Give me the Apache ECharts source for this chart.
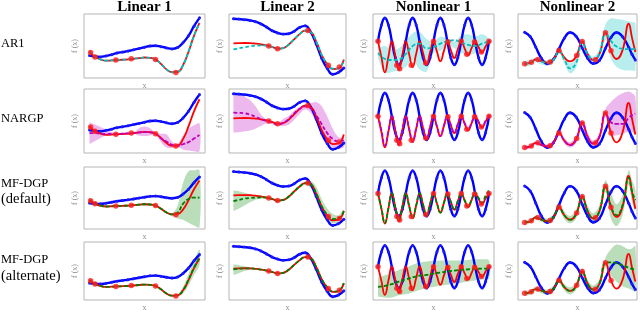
<!DOCTYPE html>
<html><head><meta charset="utf-8">
<script src="https://cdn.jsdelivr.net/npm/echarts@6/dist/echarts.min.js"></script>
<style>html,body{margin:0;padding:0;background:#fff}#c{width:640px;height:313px}</style>
</head><body><div id="c"></div><script>
const colTitles = ['Linear 1', 'Linear 2', 'Nonlinear 1', 'Nonlinear 2'];
const rowLabels = [['AR1'], ['NARGP'], ['MF-DGP', '(default)'], ['MF-DGP', '(alternate)']];

// ---------- Linear 1 ----------
const xL1 = [0,0.05,0.1,0.15,0.2,0.25,0.3,0.35,0.4,0.45,0.5,0.55,0.6,0.65,0.7,0.75,0.8,0.85,0.9,0.95,1];
const lowL1 = [0.35,0.335,0.33,0.345,0.365,0.39,0.405,0.42,0.44,0.46,0.48,0.50,0.505,0.49,0.47,0.455,0.475,0.55,0.66,0.81,0.94];
const highL1 = [0.41,0.33,0.29,0.27,0.275,0.28,0.285,0.29,0.30,0.31,0.32,0.315,0.29,0.22,0.135,0.09,0.095,0.20,0.41,0.66,0.86];
const ptsXL1 = [0.01,0.05,0.24,0.38,0.6,0.785];
const ptsYL1 = [0.40,0.33,0.28,0.30,0.29,0.085];
const ar1MeanL1 = [0.42,0.34,0.29,0.27,0.275,0.28,0.285,0.29,0.30,0.31,0.32,0.315,0.29,0.22,0.135,0.09,0.095,0.20,0.41,0.66,0.86];
const nargpMeanL1 = [0.30,0.30,0.29,0.285,0.285,0.285,0.29,0.295,0.30,0.31,0.315,0.31,0.29,0.21,0.16,0.105,0.09,0.115,0.15,0.21,0.27];
const nargpLoL1 = [0.12,0.17,0.22,0.26,0.28,0.28,0.27,0.28,0.29,0.26,0.25,0.26,0.28,0.15,0.06,0.05,0.07,0.03,0.01,0.0,0.0];
const nargpHiL1 = [0.48,0.44,0.40,0.36,0.32,0.29,0.31,0.31,0.31,0.38,0.41,0.38,0.31,0.29,0.28,0.16,0.12,0.26,0.37,0.43,0.46];
const dgpMeanL1 = [0.42,0.34,0.29,0.27,0.275,0.28,0.285,0.29,0.30,0.31,0.32,0.315,0.29,0.22,0.135,0.09,0.13,0.33,0.44,0.47,0.47];
const dgpLoL1 = [0.33,0.30,0.27,0.255,0.26,0.265,0.265,0.275,0.285,0.29,0.30,0.295,0.27,0.20,0.115,0.065,0.0,-0.03,-0.1,-0.16,-0.2];
const dgpHiL1 = [0.47,0.38,0.31,0.29,0.29,0.295,0.305,0.31,0.315,0.33,0.34,0.335,0.31,0.24,0.155,0.115,0.28,0.8,1.07,1.09,1.09];
const altMeanL1 = [0.41,0.33,0.29,0.27,0.275,0.28,0.285,0.29,0.30,0.31,0.32,0.315,0.29,0.22,0.135,0.09,0.095,0.20,0.42,0.67,0.88];
const altLoL1 = [0.36,0.31,0.28,0.26,0.265,0.27,0.275,0.28,0.29,0.30,0.31,0.305,0.28,0.21,0.125,0.075,0.07,0.14,0.30,0.52,0.72];
const altHiL1 = [0.46,0.35,0.30,0.28,0.285,0.29,0.295,0.30,0.31,0.32,0.33,0.325,0.30,0.23,0.145,0.105,0.12,0.27,0.54,0.82,1.04];

// ---------- Linear 2 ----------
const xL2 = xL1;
const lowL2 = [0.926,0.92,0.912,0.90,0.88,0.845,0.795,0.74,0.705,0.686,0.692,0.73,0.79,0.815,0.72,0.53,0.31,0.15,0.058,0.085,0.158];
const highL2 = [0.542,0.545,0.547,0.545,0.537,0.525,0.508,0.485,0.458,0.468,0.52,0.605,0.685,0.74,0.72,0.57,0.358,0.215,0.14,0.15,0.29];
const ptsXL2 = [0.32,0.40,0.675,0.86,0.96];
const ptsYL2 = [0.50,0.458,0.742,0.20,0.17];
const ar1MeanL2 = [0.447,0.465,0.48,0.495,0.505,0.51,0.505,0.485,0.458,0.468,0.52,0.605,0.685,0.74,0.72,0.57,0.36,0.22,0.145,0.15,0.28];
const nargpMeanL2 = [0.63,0.627,0.62,0.60,0.565,0.53,0.50,0.475,0.445,0.47,0.53,0.62,0.69,0.73,0.70,0.59,0.45,0.31,0.22,0.18,0.20];
const nargpLoL2 = [0.32,0.325,0.335,0.35,0.38,0.42,0.46,0.45,0.43,0.42,0.44,0.52,0.61,0.68,0.63,0.48,0.27,0.16,0.09,0.065,0.09];
const nargpHiL2 = [0.93,0.92,0.88,0.83,0.73,0.60,0.52,0.49,0.46,0.53,0.58,0.66,0.72,0.76,0.78,0.795,0.73,0.57,0.38,0.25,0.24];
const dgpMeanL2 = [0.45,0.47,0.49,0.50,0.505,0.51,0.505,0.485,0.458,0.468,0.52,0.605,0.685,0.74,0.72,0.57,0.37,0.23,0.16,0.17,0.29];
const dgpLoL2 = [0.29,0.33,0.38,0.43,0.47,0.49,0.49,0.47,0.445,0.45,0.50,0.58,0.66,0.71,0.66,0.46,0.26,0.13,0.09,0.11,0.27];
const dgpHiL2 = [0.62,0.61,0.585,0.56,0.54,0.53,0.52,0.50,0.47,0.485,0.54,0.63,0.71,0.76,0.78,0.68,0.48,0.33,0.24,0.22,0.31];
const altMeanL2 = [0.53,0.54,0.545,0.545,0.537,0.525,0.508,0.485,0.458,0.468,0.52,0.605,0.685,0.74,0.72,0.57,0.36,0.22,0.145,0.155,0.29];
const altLoL2 = [0.43,0.46,0.50,0.52,0.525,0.515,0.50,0.475,0.45,0.458,0.51,0.595,0.675,0.73,0.705,0.55,0.34,0.205,0.13,0.14,0.27];
const altHiL2 = [0.61,0.60,0.58,0.565,0.55,0.535,0.515,0.495,0.465,0.478,0.53,0.615,0.695,0.75,0.735,0.59,0.38,0.235,0.16,0.17,0.31];

// ---------- Nonlinear 1 ----------
const xN1 = [0,0.031,0.062,0.094,0.125,0.156,0.188,0.219,0.25,0.281,0.312,0.344,0.375,0.406,0.438,0.469,0.5,0.531,0.562,0.594,0.625,0.656,0.688,0.719,0.75,0.781,0.812,0.844,0.875,0.906,0.938,0.969,1];
const lowN1 = [0,0.7,1,0.7,0,-0.7,-1,-0.7,0,0.7,1,0.7,0,-0.7,-1,-0.7,0,0.7,1,0.7,0,-0.7,-1,-0.7,0,0.7,1,0.7,0,-0.7,-1,-0.7,0];
const highN1 = [0,-0.68,-1.33,-0.65,0,-0.62,-1.22,-0.6,0,-0.56,-1.1,-0.53,0,-0.5,-0.97,-0.47,0,-0.44,-0.85,-0.41,0,-0.37,-0.72,-0.34,0,-0.31,-0.6,-0.28,0,-0.25,-0.48,-0.22,0];
const ptsXN1 = [0.0,0.17,0.195,0.3,0.43,0.5,0.63,0.75,0.8,0.87,0.93,1.0];
const ptsYN1 = [0,-1.02,-1.17,-1.02,-0.93,0,-0.02,0,-0.55,-0.02,-0.46,0];
const xN1b = [0,0.0625,0.125,0.1875,0.25,0.3125,0.375,0.4375,0.5,0.5625,0.625,0.6875,0.75,0.8125,0.875,0.9375,1];
const ar1MeanN1 = [-0.5,-0.75,-0.8,-0.78,-0.55,-0.2,-0.1,-0.3,-0.25,-0.1,0.0,0.05,-0.05,-0.15,-0.2,-0.1,0.0];
const ar1LoN1 = [-0.7,-1.35,-1.3,-1.25,-1.1,-0.8,-1.2,-1.3,-0.5,-0.4,-0.2,-0.3,-0.5,-0.6,-0.5,-0.45,-0.15];
const ar1HiN1 = [-0.3,-0.2,-0.35,-0.3,0.0,0.35,0.4,0.1,0.0,0.2,0.1,0.0,0.25,0.3,0.2,0.3,0.1];
const nargpMeanN1 = [0.05,-0.6,-1.25,-0.62,0,-0.6,-1.2,-0.58,0,-0.55,-1.08,-0.52,0,-0.49,-0.95,-0.46,0,-0.43,-0.84,-0.4,0,-0.36,-0.7,-0.33,0,-0.3,-0.58,-0.27,0.02,-0.23,-0.45,-0.2,0.03];
const dgpMeanN1 = [0,-0.66,-1.3,-0.64,0,-0.62,-1.2,-0.6,0,-0.56,-1.08,-0.53,0,-0.5,-0.96,-0.47,0,-0.44,-0.84,-0.41,0,-0.37,-0.72,-0.34,0,-0.31,-0.58,-0.25,0.05,-0.2,-0.4,-0.1,0.15];
const altMeanN1 = [-0.95,-0.9,-0.82,-0.7,-0.6,-0.5,-0.42,-0.38,-0.32,-0.27,-0.22,-0.18,-0.15,-0.12,-0.1,-0.09,-0.08];
const altLoN1 = [-1.4,-1.45,-1.45,-1.35,-1.3,-1.2,-1.1,-1.0,-0.95,-0.9,-0.85,-0.8,-0.75,-0.7,-0.65,-0.6,-0.55];
const altHiN1 = [-0.5,-0.4,-0.3,-0.15,-0.05,0.1,0.2,0.25,0.28,0.3,0.3,0.3,0.3,0.32,0.35,0.35,0.3];

// ---------- Nonlinear 2 ----------
const xN2 = [0,0.05,0.1,0.15,0.205,0.26,0.31,0.36,0.41,0.465,0.52,0.57,0.62,0.675,0.73,0.78,0.83,0.885,0.94,0.97,1];
const lowN2 = [1.0,0.73,0.07,-0.63,-1.0,-0.72,-0.05,0.64,0.99,0.75,0.0,-0.66,-0.99,-0.79,-0.02,0.67,0.99,0.72,0.05,-0.4,-0.76];
const highN2 = [-1.0,-0.95,-0.73,-0.84,-0.93,-0.72,-0.16,-0.62,-0.85,-0.54,0.41,-0.4,-0.77,-0.39,0.98,-0.17,-0.7,-0.12,1.55,0.65,-0.25];
const ptsXN2 = [0.0,0.06,0.12,0.23,0.31,0.47,0.52,0.64,0.73,0.78];
const ptsYN2 = [-1.0,-0.91,-0.73,-0.89,-0.16,-0.48,0.41,-0.74,0.98,-0.17];
const ar1MeanN2 = [-1.0,-0.95,-0.75,-0.86,-0.95,-0.75,-0.2,-0.75,-1.3,-0.95,0.35,-0.4,-0.75,-0.35,1.0,0.45,0.1,-0.05,-0.07,-0.07,-0.07];
const ar1LoN2 = [-1.2,-1.12,-0.9,-1.04,-1.12,-0.95,-0.35,-1.0,-1.6,-1.25,0.2,-0.6,-0.95,-0.65,0.5,-0.7,-1.2,-1.4,-1.43,-1.43,-1.43];
const ar1HiN2 = [-0.8,-0.78,-0.6,-0.68,-0.78,-0.55,-0.05,-0.5,-0.95,-0.65,0.5,-0.2,-0.55,-0.05,1.5,1.9,1.85,1.8,1.7,1.65,1.6];
const nargpMeanN2 = [-1.0,-0.95,-0.73,-0.84,-0.93,-0.72,-0.16,-0.62,-0.85,-0.54,0.41,-0.4,-0.77,-0.39,0.98,0.45,0.35,0.35,0.7,0.85,0.95];
const nargpLoN2 = [-1.1,-1.04,-0.82,-0.94,-1.04,-0.84,-0.27,-0.78,-1.0,-0.75,0.27,-0.65,-0.94,-0.62,0.75,-0.3,-0.3,-0.2,-0.1,-0.1,-0.25];
const nargpHiN2 = [-0.9,-0.86,-0.64,-0.74,-0.82,-0.6,-0.05,-0.45,-0.7,-0.3,0.55,-0.15,-0.6,-0.15,1.2,1.6,1.9,2.1,2.2,2.1,1.9];
const dgpMeanN2 = [-1.0,-0.95,-0.73,-0.84,-0.93,-0.72,-0.16,-0.62,-0.85,-0.54,0.41,-0.4,-0.77,-0.39,0.98,-0.1,-0.6,-0.05,1.45,0.7,0.22];
const dgpLoN2 = [-1.12,-1.05,-0.84,-0.96,-1.08,-0.9,-0.32,-0.84,-1.05,-0.78,0.22,-0.7,-1.04,-0.73,0.66,-0.8,-1.2,-0.6,1.05,0.1,-0.35];
const dgpHiN2 = [-0.88,-0.85,-0.62,-0.72,-0.78,-0.55,0.0,-0.4,-0.65,-0.3,0.6,-0.1,-0.5,-0.05,1.3,0.6,0.0,0.5,1.85,1.3,0.8];
const altMeanN2 = [-1.0,-0.95,-0.73,-0.84,-0.93,-0.72,-0.16,-0.62,-0.85,-0.54,0.41,-0.4,-0.77,-0.39,0.98,1.0,0.95,0.8,0.65,0.58,0.52];
const altLoN2 = [-1.18,-1.1,-0.88,-1.0,-1.1,-0.92,-0.34,-0.84,-1.08,-0.78,0.2,-0.65,-1.04,-0.68,0.66,0.15,-0.25,-0.55,-0.7,-0.8,-0.9];
const altHiN2 = [-0.82,-0.8,-0.58,-0.68,-0.76,-0.52,0.02,-0.4,-0.62,-0.3,0.62,-0.15,-0.5,-0.1,1.3,1.85,2.15,2.05,1.85,1.9,2.05];

// ---------- layout / style ----------
const gridLeft = [84, 229, 373, 518];
const gridWidth = [121, 117, 121, 119];
const gridTop = [14, 89, 167, 242];
const gridHeight = [64, 64, 62, 64];
const modelColors = ['#00bfbf', '#bf00bf', '#008000', '#008000'];
const bandColors = ['rgba(0,191,191,0.28)', 'rgba(191,0,191,0.28)', 'rgba(0,128,0,0.27)', 'rgba(0,128,0,0.27)'];

const cols = [
  {x: xL1, low: lowL1, high: highL1, px: ptsXL1, py: ptsYL1, xr: [-0.05, 1.05],
   yr: [[0, 1], [-0.03, 1.03], [-0.24, 1.164], [0, 1.2]],
   models: [
     {x: xL1, m: ar1MeanL1},
     {x: xL1, m: nargpMeanL1, bx: xL1, lo: nargpLoL1, hi: nargpHiL1},
     {x: xL1, m: dgpMeanL1, bx: xL1, lo: dgpLoL1, hi: dgpHiL1},
     {x: xL1, m: altMeanL1, bx: xL1, lo: altLoL1, hi: altHiL1}]},
  {x: xL2, low: lowL2, high: highL2, px: ptsXL2, py: ptsYL2, xr: [-0.04, 1.02],
   yr: [[0, 1], [0.0, 1.0], [0, 1], [0, 1]],
   models: [
     {x: xL2, m: ar1MeanL2},
     {x: xL2, m: nargpMeanL2, bx: xL2, lo: nargpLoL2, hi: nargpHiL2},
     {x: xL2, m: dgpMeanL2, bx: xL2, lo: dgpLoL2, hi: dgpHiL2},
     {x: xL2, m: altMeanL2, bx: xL2, lo: altLoL2, hi: altHiL2}]},
  {x: xN1, low: lowN1, high: highN1, px: ptsXN1, py: ptsYN1, xr: [-0.045, 1.045],
   yr: [[-1.57, 1.17], [-1.57, 1.17], [-1.57, 1.17], [-1.57, 1.17]],
   models: [
     {x: xN1b, m: ar1MeanN1, bx: xN1b, lo: ar1LoN1, hi: ar1HiN1},
     {x: xN1, m: nargpMeanN1},
     {x: xN1, m: dgpMeanN1},
     {x: xN1b, m: altMeanN1, bx: xN1b, lo: altLoN1, hi: altHiN1}]},
  {x: xN2, low: lowN2, high: highN2, px: ptsXN2, py: ptsYN2, xr: [-0.06, 1.015],
   yr: [[-1.91, 2.17], [-1.31, 2.35], [-1.36, 2.04], [-1.44, 2.32]],
   models: [
     {x: xN2, m: ar1MeanN2, bx: xN2, lo: ar1LoN2, hi: ar1HiN2},
     {x: xN2, m: nargpMeanN2, bx: xN2, lo: nargpLoN2, hi: nargpHiN2},
     {x: xN2, m: dgpMeanN2, bx: xN2, lo: dgpLoN2, hi: dgpHiN2},
     {x: xN2, m: altMeanN2, bx: xN2, lo: altLoN2, hi: altHiN2}]}
];

const pairs = (xs, ys) => xs.map((v, i) => [v, ys[i]]);
const grids = [], xAxes = [], yAxes = [], series = [];
const axisFont = {fontFamily: 'Liberation Serif', fontSize: 8, color: '#8a8a8a'};

for (let r = 0; r < 4; r++) {
  for (let c = 0; c < 4; c++) {
    const gi = grids.length;
    const col = cols[c];
    const mod = col.models[r];
    grids.push({left: gridLeft[c], top: gridTop[r], width: gridWidth[c], height: gridHeight[r],
      show: true, borderColor: '#b5b5b5', borderWidth: 1, backgroundColor: '#fff'});
    xAxes.push({type: 'value', gridIndex: gi, min: col.xr[0], max: col.xr[1],
      axisLine: {show: false}, axisTick: {show: false}, axisLabel: {show: false}, splitLine: {show: false},
      name: 'x', nameLocation: 'middle', nameGap: 4, nameTextStyle: axisFont});
    yAxes.push({type: 'value', gridIndex: gi, min: col.yr[r][0], max: col.yr[r][1],
      axisLine: {show: false}, axisTick: {show: false}, axisLabel: {show: false}, splitLine: {show: false},
      name: 'f (x)', nameLocation: 'middle', nameGap: 5, nameTextStyle: axisFont});
    if (mod.bx) {
      const bx = mod.bx, lo = mod.lo, hi = mod.hi, fill = bandColors[r];
      series.push({type: 'custom', xAxisIndex: gi, yAxisIndex: gi, clip: true, silent: true, z: 1,
        data: [[bx[0], lo[0]]], encode: {x: 0, y: 1},
        renderItem: function (params, api) {
          const up = [], dn = [];
          for (let i = 0; i < bx.length; i++) up.push(api.coord([bx[i], hi[i]]));
          for (let i = bx.length - 1; i >= 0; i--) dn.push(api.coord([bx[i], lo[i]]));
          return {type: 'group', children: [
            {type: 'polyline', shape: {points: up.concat(dn), smooth: 0.35}, style: {fill: fill, stroke: null}}]};
        }});
    }
    series.push({type: 'line', xAxisIndex: gi, yAxisIndex: gi, data: pairs(col.x, col.low), smooth: 0.5,
      symbol: 'circle', symbolSize: 3, showSymbol: true, itemStyle: {color: '#1a1aff'},
      lineStyle: {color: '#0000ff', width: 2.4}, z: 2, silent: true});
    series.push({type: 'line', xAxisIndex: gi, yAxisIndex: gi, data: pairs(col.x, col.high), smooth: 0.5,
      showSymbol: false, lineStyle: {color: '#ff0000', width: 1.8}, z: 3, silent: true});
    series.push({type: 'line', xAxisIndex: gi, yAxisIndex: gi, data: pairs(mod.x, mod.m), smooth: 0.5,
      showSymbol: false, lineStyle: {color: modelColors[r], width: 1.8, type: [4, 2]}, z: 4, silent: true});
    series.push({type: 'scatter', xAxisIndex: gi, yAxisIndex: gi, data: pairs(col.px, col.py),
      symbolSize: 5.5, itemStyle: {color: '#ff1a1a'}, z: 5, silent: true});
  }
}

const graphic = [];
colTitles.forEach((t, c) => graphic.push({type: 'text', x: gridLeft[c] + gridWidth[c] / 2, y: 7,
  style: {text: t, textAlign: 'center', textVerticalAlign: 'middle', font: 'bold 15px "Liberation Serif"', fill: '#000'}}));
const labelY = [[44], [118.5], [183.5, 199], [259.5, 276]];
rowLabels.forEach((lines, r) => lines.forEach((t, k) => graphic.push({type: 'text', x: 1, y: labelY[r][k],
  style: {text: t, textAlign: 'left', textVerticalAlign: 'middle',
    font: (k === 0 ? '12.5px' : '14.5px') + ' "Liberation Serif"', fill: '#000'}})));

const chart = echarts.init(document.getElementById('c'), null, {renderer: 'canvas'});
chart.setOption({animation: false, grid: grids, xAxis: xAxes, yAxis: yAxes, series: series, graphic: graphic});
</script></body></html>
